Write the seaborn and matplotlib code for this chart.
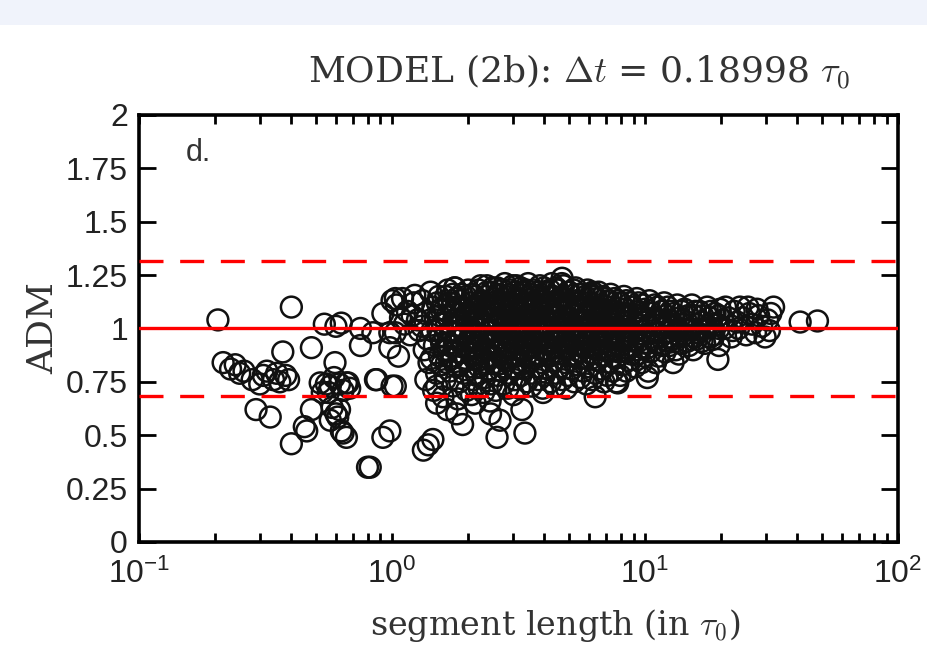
import matplotlib
matplotlib.use("Agg")
import matplotlib.pyplot as plt
from matplotlib.patches import Rectangle
from matplotlib.ticker import FixedLocator, FixedFormatter, NullFormatter
import pandas as pd
import seaborn as sns

# ---------------------------------------------------------------- data
# short segments (sparse, left part of the cloud)
short_segments = [
    (0.205, 1.04), (0.40, 1.10), (0.215, 0.84), (0.24, 0.83), (0.25, 0.79),
    (0.28, 0.76), (0.31, 0.78), (0.34, 0.76), (0.36, 0.75), (0.39, 0.76),
    (0.37, 0.89), (0.29, 0.62), (0.33, 0.585), (0.40, 0.46), (0.46, 0.52),
    (0.48, 0.62), (0.48, 0.91), (0.57, 0.73), (0.595, 0.84), (0.54, 1.02),
    (0.60, 1.01), (0.63, 1.025), (0.75, 0.92), (0.75, 1.00), (0.67, 0.745),
    (0.61, 0.585), (0.64, 0.51), (0.66, 0.49), (0.82, 0.35), (0.86, 0.76),
    (0.92, 0.49), (0.53, 0.70), (0.58, 0.63), (0.60, 0.60), (0.64, 0.71),
    (0.52, 0.745), (0.55, 0.74), (0.66, 0.745), (0.98, 0.91), (0.87, 0.76),
    (1.00, 0.73), (0.84, 0.98), (0.98, 0.98), (0.92, 1.07), (1.00, 1.13),
    (0.98, 0.52), (0.80, 0.35), (0.63, 0.52), (0.45, 0.54),
    (0.23, 0.81), (0.26, 0.80), (0.30, 0.74), (0.32, 0.80), (0.35, 0.79),
    (0.38, 0.78), (0.56, 0.70), (0.62, 0.74), (0.59, 0.77), (0.68, 0.72),
    (0.57, 0.57), (0.62, 0.62),
]

# lower tail of the medium-length segments
low_tail = [
    (1.03, 0.73), (1.50, 0.65), (1.80, 0.60), (1.90, 0.55), (1.39, 0.455),
    (1.33, 0.43), (1.45, 0.48), (2.67, 0.57), (2.60, 0.49), (3.26, 0.62),
    (3.35, 0.51), (2.13, 0.65), (3.95, 0.70), (4.40, 0.73), (6.35, 0.68),
    (7.80, 0.745), (10.2, 0.77), (12.9, 0.84), (19.4, 0.855), (1.50, 0.73),
    (2.45, 0.60), (1.65, 0.62),
]

# upper edge of the cloud and the two longest segments
top_edge = [
    (1.03, 1.14), (1.23, 1.155), (1.77, 1.19), (2.37, 1.20), (3.00, 1.20),
    (4.70, 1.235), (6.20, 1.17), (41.0, 1.03), (48.0, 1.035),
]

# dense core, 1 < length < 33
core = [
    (1.04, 1.11), (1.08, 1.05), (1.03, 0.98), (1.06, 0.87), (1.12, 1.02),
    (1.15, 1.08), (1.18, 0.97), (1.22, 1.12), (1.26, 1.04), (1.28, 0.99),
    (1.10, 1.14), (1.20, 1.06),
    (1.32, 1.13), (1.35, 1.07), (1.31, 1.01), (1.38, 0.95), (1.34, 0.90),
    (1.40, 0.84), (1.36, 0.76), (1.42, 1.17), (1.45, 1.10), (1.48, 1.04),
    (1.44, 0.99), (1.47, 0.92), (1.43, 0.86), (1.50, 0.79), (1.46, 0.71),
    (1.53, 1.15), (1.56, 1.09), (1.58, 1.02), (1.55, 0.96), (1.60, 0.90),
    (1.57, 0.83), (1.62, 0.76), (1.59, 0.68), (1.66, 1.18), (1.68, 1.12),
    (1.65, 1.06), (1.70, 0.99), (1.67, 0.93), (1.72, 0.87), (1.69, 0.80),
    (1.74, 0.73), (1.77, 1.19), (1.79, 1.14), (1.76, 1.08), (1.81, 1.01),
    (1.78, 0.95), (1.83, 0.89), (1.80, 0.82), (1.85, 0.75), (1.82, 0.67),
    (1.88, 1.16), (1.91, 1.10), (1.87, 1.04), (1.93, 0.98), (1.90, 0.92),
    (1.95, 0.86), (1.92, 0.79), (1.97, 0.71), (2.00, 1.18), (2.03, 1.12),
    (1.99, 1.06), (2.05, 1.00), (2.02, 0.94), (2.07, 0.88), (2.04, 0.82),
    (2.09, 0.76), (2.06, 0.69), (2.12, 1.15), (2.15, 1.09), (2.11, 1.03),
    (2.17, 0.97), (2.14, 0.91), (2.19, 0.85), (2.16, 0.78), (2.21, 0.72),
    (2.24, 1.20), (2.27, 1.13), (2.23, 1.07), (2.29, 1.01), (2.26, 0.95),
    (2.31, 0.89), (2.28, 0.83), (2.33, 0.77), (2.30, 0.70),
    (2.37, 1.17), (2.40, 1.11), (2.36, 1.05), (2.42, 0.99), (2.39, 0.93),
    (2.45, 0.87), (2.41, 0.81), (2.47, 0.74), (2.44, 0.66), (2.50, 1.19),
    (2.53, 1.14), (2.49, 1.08), (2.56, 1.02), (2.52, 0.96), (2.58, 0.90),
    (2.55, 0.84), (2.61, 0.78), (2.57, 0.71), (2.64, 1.16), (2.68, 1.10),
    (2.63, 1.04), (2.71, 0.98), (2.66, 0.92), (2.73, 0.86), (2.69, 0.80),
    (2.76, 0.74), (2.79, 1.21), (2.82, 1.15), (2.78, 1.09), (2.85, 1.03),
    (2.81, 0.97), (2.88, 0.91), (2.84, 0.85), (2.91, 0.79), (2.87, 0.72),
    (2.94, 1.18), (2.97, 1.12), (2.93, 1.06), (3.00, 1.00), (2.96, 0.94),
    (3.03, 0.88), (2.99, 0.82), (3.06, 0.76), (3.02, 0.69),
    (3.10, 1.20), (3.14, 1.14), (3.08, 1.08), (3.17, 1.02), (3.12, 0.96),
    (3.20, 0.90), (3.15, 0.84), (3.23, 0.78), (3.19, 0.72), (3.27, 1.17),
    (3.31, 1.11), (3.25, 1.05), (3.35, 0.99), (3.29, 0.93), (3.38, 0.87),
    (3.33, 0.81), (3.41, 0.75), (3.45, 1.21), (3.49, 1.15), (3.43, 1.09),
    (3.53, 1.03), (3.47, 0.97), (3.56, 0.91), (3.51, 0.85), (3.60, 0.79),
    (3.55, 0.73), (3.64, 1.18), (3.68, 1.12), (3.62, 1.06), (3.72, 1.00),
    (3.66, 0.94), (3.76, 0.88), (3.70, 0.82), (3.80, 0.76), (3.84, 1.20),
    (3.88, 1.14), (3.82, 1.08), (3.92, 1.02), (3.86, 0.96), (3.96, 0.90),
    (3.90, 0.84), (3.99, 0.78), (3.94, 0.72),
    (4.05, 1.17), (4.10, 1.11), (4.02, 1.05), (4.15, 0.99), (4.08, 0.93),
    (4.19, 0.87), (4.12, 0.81), (4.23, 0.75), (4.28, 1.21), (4.33, 1.15),
    (4.26, 1.09), (4.38, 1.03), (4.31, 0.97), (4.42, 0.91), (4.35, 0.85),
    (4.46, 0.79), (4.40, 0.73), (4.52, 1.18), (4.57, 1.12), (4.50, 1.06),
    (4.62, 1.00), (4.55, 0.94), (4.67, 0.88), (4.60, 0.82), (4.71, 0.76),
    (4.76, 1.20), (4.81, 1.14), (4.74, 1.08), (4.86, 1.02), (4.79, 0.96),
    (4.91, 0.90), (4.84, 0.84), (4.95, 0.78), (4.89, 0.72),
    (5.02, 1.17), (5.08, 1.11), (5.00, 1.05), (5.14, 0.99), (5.05, 0.93),
    (5.19, 0.87), (5.11, 0.81), (5.25, 0.75), (5.31, 1.19), (5.37, 1.13),
    (5.28, 1.07), (5.43, 1.01), (5.34, 0.95), (5.49, 0.89), (5.40, 0.83),
    (5.55, 0.77), (5.61, 1.16), (5.67, 1.10), (5.58, 1.04), (5.74, 0.98),
    (5.64, 0.92), (5.80, 0.86), (5.70, 0.80), (5.86, 0.74), (5.92, 1.18),
    (5.99, 1.12), (5.89, 1.06), (6.06, 1.00), (5.96, 0.94), (6.12, 0.88),
    (6.02, 0.82), (6.18, 0.76),
    (6.25, 1.15), (6.33, 1.09), (6.22, 1.03), (6.40, 0.97), (6.29, 0.91),
    (6.47, 0.85), (6.36, 0.79), (6.55, 1.17), (6.63, 1.11), (6.51, 1.05),
    (6.71, 0.99), (6.59, 0.93), (6.79, 0.87), (6.67, 0.81), (6.87, 0.75),
    (6.95, 1.14), (7.04, 1.08), (6.91, 1.02), (7.13, 0.96), (7.00, 0.90),
    (7.22, 0.84), (7.09, 0.78), (7.31, 1.16), (7.41, 1.10), (7.27, 1.04),
    (7.51, 0.98), (7.36, 0.92), (7.61, 0.86), (7.46, 0.80), (7.70, 0.75),
    (7.80, 1.13), (7.91, 1.07), (7.75, 1.01), (8.02, 0.95), (7.86, 0.89),
    (8.13, 0.83), (7.97, 0.78), (8.25, 1.15), (8.37, 1.09), (8.20, 1.03),
    (8.49, 0.97), (8.31, 0.91), (8.61, 0.85), (8.43, 0.80), (8.74, 1.12),
    (8.87, 1.06), (8.68, 1.00), (9.00, 0.94), (8.80, 0.88), (9.13, 0.82),
    (9.27, 1.14), (9.41, 1.08), (9.20, 1.02), (9.55, 0.96), (9.34, 0.90),
    (9.69, 0.84), (9.84, 1.11), (9.99, 1.05), (9.77, 0.99), (10.1, 0.93),
    (9.91, 0.87), (10.3, 0.80),
    (10.4, 1.13), (10.6, 1.07), (10.3, 1.01), (10.8, 0.95), (10.5, 0.89),
    (11.0, 0.84), (11.2, 1.10), (11.4, 1.04), (11.1, 0.98), (11.6, 0.92),
    (11.3, 0.87), (11.9, 1.12), (12.1, 1.06), (11.8, 1.00), (12.4, 0.94),
    (12.0, 0.89), (12.6, 1.08), (12.9, 1.02), (12.5, 0.96), (13.2, 0.90),
    (13.4, 1.11), (13.7, 1.05), (13.3, 0.99), (14.0, 0.93), (13.6, 0.88),
    (14.3, 1.09), (14.6, 1.03), (14.2, 0.97), (14.9, 0.92), (15.3, 1.11),
    (15.6, 1.06), (15.1, 1.00), (16.0, 0.95), (15.5, 0.90), (16.4, 1.08),
    (16.8, 1.03), (16.2, 0.98), (17.2, 0.93), (17.6, 1.10), (18.0, 1.05),
    (17.4, 1.00), (18.5, 0.95), (18.9, 1.07), (19.3, 1.02), (18.7, 0.97),
    (19.8, 1.09), (20.3, 1.04), (19.6, 0.92),
    (20.8, 1.10), (21.3, 1.05), (20.6, 1.00), (21.9, 0.96), (22.5, 1.08),
    (23.1, 1.03), (22.2, 0.99), (23.7, 1.10), (24.4, 1.05), (23.4, 1.00),
    (25.1, 0.97), (25.8, 1.07), (26.5, 1.02), (25.5, 1.10), (27.3, 0.98),
    (28.1, 1.06), (28.9, 1.01), (27.7, 1.09), (29.8, 0.96), (30.5, 1.04),
    (31.4, 1.07), (32.2, 1.10), (31.0, 0.99),
]

# the crowded middle band, 1.5 < length < 20
core_band = [
    (1.51, 1.12), (1.54, 1.06), (1.52, 0.99), (1.57, 0.93), (1.54, 0.87),
    (1.63, 1.15), (1.61, 1.09), (1.64, 1.03), (1.62, 0.96), (1.66, 0.90),
    (1.64, 0.84), (1.74, 1.16), (1.72, 1.10), (1.75, 1.04), (1.73, 0.98),
    (1.76, 0.92), (1.74, 0.86), (1.85, 1.13), (1.86, 1.07), (1.84, 1.01),
    (1.87, 0.95), (1.85, 0.89), (1.86, 0.83), (1.96, 1.15), (1.95, 1.09),
    (1.97, 1.03), (1.94, 0.97), (1.98, 0.91), (1.96, 0.85), (2.08, 1.16),
    (2.09, 1.10), (2.07, 1.04), (2.10, 0.98), (2.08, 0.92), (2.11, 0.86),
    (2.20, 1.18), (2.21, 1.12), (2.19, 1.06), (2.22, 1.00), (2.20, 0.94),
    (2.23, 0.88), (2.21, 0.82),
    (2.34, 1.15), (2.33, 1.09), (2.35, 1.02), (2.34, 0.96), (2.36, 0.90),
    (2.35, 0.84), (2.47, 1.17), (2.46, 1.11), (2.48, 1.05), (2.47, 0.99),
    (2.49, 0.93), (2.48, 0.87), (2.60, 1.19), (2.61, 1.13), (2.59, 1.07),
    (2.62, 1.01), (2.60, 0.95), (2.63, 0.89), (2.61, 0.83), (2.74, 1.18),
    (2.75, 1.12), (2.73, 1.06), (2.76, 1.00), (2.74, 0.94), (2.77, 0.88),
    (2.75, 0.82), (2.90, 1.16), (2.91, 1.10), (2.89, 1.04), (2.92, 0.98),
    (2.90, 0.92), (2.93, 0.86), (3.05, 1.17), (3.06, 1.11), (3.04, 1.05),
    (3.07, 0.99), (3.05, 0.93), (3.08, 0.87), (3.06, 0.81), (3.22, 1.19),
    (3.23, 1.13), (3.21, 1.07), (3.24, 1.01), (3.22, 0.95), (3.25, 0.89),
    (3.23, 0.83), (3.39, 1.18), (3.40, 1.12), (3.38, 1.06), (3.41, 1.00),
    (3.39, 0.94), (3.42, 0.88),
    (3.58, 1.16), (3.59, 1.10), (3.57, 1.04), (3.60, 0.98), (3.58, 0.92),
    (3.61, 0.86), (3.77, 1.17), (3.78, 1.11), (3.76, 1.05), (3.79, 0.99),
    (3.77, 0.93), (3.80, 0.87), (3.98, 1.19), (3.99, 1.13), (3.97, 1.07),
    (4.00, 1.01), (3.98, 0.95), (4.01, 0.89), (4.20, 1.18), (4.21, 1.12),
    (4.19, 1.06), (4.22, 1.00), (4.20, 0.94), (4.23, 0.88), (4.44, 1.19),
    (4.45, 1.13), (4.43, 1.07), (4.46, 1.01), (4.44, 0.95), (4.47, 0.89),
    (4.69, 1.21), (4.70, 1.15), (4.68, 1.09), (4.71, 1.03), (4.69, 0.97),
    (4.72, 0.91), (4.95, 1.17), (4.96, 1.11), (4.94, 1.05), (4.97, 0.99),
    (4.95, 0.93), (4.98, 0.87), (5.22, 1.18), (5.23, 1.12), (5.21, 1.06),
    (5.24, 1.00), (5.22, 0.94), (5.25, 0.88),
    (5.50, 1.16), (5.51, 1.10), (5.49, 1.04), (5.52, 0.98), (5.50, 0.92),
    (5.53, 0.86), (5.80, 1.15), (5.81, 1.09), (5.79, 1.03), (5.82, 0.97),
    (5.80, 0.91), (6.12, 1.16), (6.13, 1.10), (6.11, 1.04), (6.14, 0.98),
    (6.12, 0.92), (6.15, 0.86), (6.45, 1.14), (6.46, 1.08), (6.44, 1.02),
    (6.47, 0.96), (6.45, 0.90), (6.80, 1.15), (6.81, 1.09), (6.79, 1.03),
    (6.82, 0.97), (6.80, 0.91), (7.18, 1.13), (7.19, 1.07), (7.17, 1.01),
    (7.20, 0.95), (7.18, 0.89), (7.57, 1.14), (7.58, 1.08), (7.56, 1.02),
    (7.59, 0.96), (7.57, 0.90), (8.00, 1.12), (8.01, 1.06), (7.99, 1.00),
    (8.02, 0.94), (8.44, 1.13), (8.45, 1.07), (8.43, 1.01), (8.46, 0.95),
    (8.44, 0.89), (8.92, 1.10), (8.93, 1.04), (8.91, 0.98), (8.94, 0.92),
    (9.41, 1.12), (9.42, 1.06), (9.40, 1.00), (9.43, 0.94), (9.41, 0.88),
    (10.0, 1.09), (10.1, 1.03), (9.95, 0.97), (10.2, 0.91), (10.9, 1.11),
    (11.0, 1.05), (10.8, 0.99), (11.1, 0.93), (11.6, 1.08), (11.7, 1.02),
    (11.5, 0.96), (12.3, 1.10), (12.4, 1.04), (12.2, 0.98), (12.5, 0.92),
    (13.0, 1.07), (13.1, 1.01), (12.9, 0.95), (14.0, 1.08), (14.1, 1.02),
    (13.9, 0.96), (14.8, 1.06), (14.9, 1.00), (14.7, 0.94), (15.8, 1.08),
    (15.9, 1.02), (15.7, 0.96), (16.9, 1.06), (17.0, 1.00), (16.8, 0.94),
    (18.2, 1.08), (18.3, 1.02), (18.1, 0.96), (19.5, 1.06), (19.6, 1.00),
]

adm_mean = 1.0
adm_band = [0.685, 1.315]

x_ticks = [0.1, 1, 10, 100]
x_tick_labels = [r"$\mathdefault{10^{-1}}$", r"$\mathdefault{10^{0}}$",
                 r"$\mathdefault{10^{1}}$", r"$\mathdefault{10^{2}}$"]
y_ticks = [0, 0.25, 0.5, 0.75, 1, 1.25, 1.5, 1.75, 2]
y_tick_labels = ["0", "0.25", "0.5", "0.75", "1", "1.25", "1.5", "1.75", "2"]

points = pd.DataFrame(short_segments + low_tail + top_edge + core + core_band,
                      columns=["segment_length", "adm"])

# ---------------------------------------------------------------- style
sns.set_theme(style="ticks")
plt.rcParams["font.family"] = ["Liberation Sans", "DejaVu Sans"]
plt.rcParams["mathtext.fontset"] = "cm"

label_font = ["DejaVu Serif"]
text_grey = "#333333"

fig = plt.figure(figsize=(9.28, 6.5), dpi=100)
fig.patch.set_facecolor("white")
fig.patches.append(Rectangle((0, 1 - 25 / 650), 1, 25 / 650,
                             transform=fig.transFigure,
                             facecolor="#f0f3fb", edgecolor="none", zorder=0))

ax = fig.add_axes([0.1498, 0.1662, 0.818, 0.657])
ax.set_facecolor("white")

sns.scatterplot(data=points, x="segment_length", y="adm", ax=ax,
                marker="o", s=225, facecolors="none", edgecolor="#111111",
                linewidth=1.8, legend=False, zorder=2)
for coll in ax.collections:
    coll.set_facecolor("none")

ax.axhline(adm_mean, color="#ff0000", lw=2.4, zorder=3)
for level in adm_band:
    ax.axhline(level, color="#ff0000", lw=2.4, dashes=(7.2, 5.0), zorder=3)

ax.set_xscale("log")
ax.set_xlim(0.1, 100)
ax.set_ylim(0, 2)

ax.xaxis.set_major_locator(FixedLocator(x_ticks))
ax.xaxis.set_major_formatter(FixedFormatter(x_tick_labels))
ax.xaxis.set_minor_locator(FixedLocator(
    [m * d for d in (0.1, 1, 10) for m in range(2, 10)]))
ax.xaxis.set_minor_formatter(NullFormatter())
ax.yaxis.set_major_locator(FixedLocator(y_ticks))
ax.yaxis.set_major_formatter(FixedFormatter(y_tick_labels))

for side in ["left", "right", "top", "bottom"]:
    ax.spines[side].set_linewidth(2.6)
    ax.spines[side].set_color("black")

ax.tick_params(axis="both", which="both", direction="in", top=True,
               right=True, color="black", width=2.0)
ax.tick_params(axis="x", which="major", length=6.5, pad=12, labelsize=23)
ax.tick_params(axis="x", which="minor", length=6.5)
ax.tick_params(axis="y", which="major", length=12, pad=8, labelsize=23)
for lab in ax.get_xticklabels() + ax.get_yticklabels():
    lab.set_color("#222222")

ax.set_xlabel(r"segment length (in $\tau_0$)", fontfamily=label_font,
              fontsize=24, labelpad=12, color=text_grey)
ax.xaxis.label.set_x(0.548)
ax.set_ylabel("ADM", fontfamily=label_font, fontsize=26, labelpad=4,
              color=text_grey)

fig.text(0.624, 0.889, r"MODEL (2b): $\Delta t$ = 0.18998 $\tau_0$",
         fontfamily=label_font, fontsize=26, ha="center", va="center",
         color=text_grey)

ax.text(0.061, 0.946, "d.", transform=ax.transAxes, fontsize=22,
        ha="left", va="top", color=text_grey)

fig.savefig("out.png", dpi=100)
